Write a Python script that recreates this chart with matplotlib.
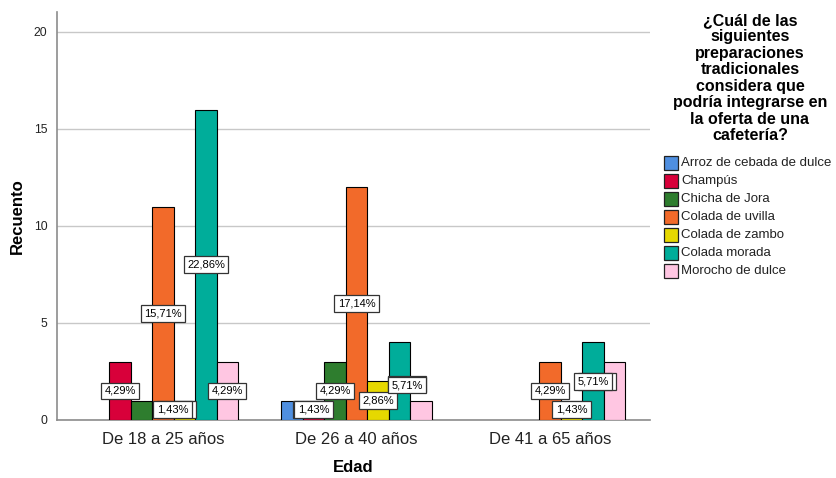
import matplotlib
matplotlib.use("Agg")
import matplotlib.pyplot as plt
from matplotlib.patches import Rectangle

plt.rcParams['font.family'] = ['Liberation Sans', 'DejaVu Sans']

# ---- data -------------------------------------------------------------
age_groups = ["De 18 a 25 años", "De 26 a 40 años", "De 41 a 65 años"]
preparations = ["Arroz de cebada de dulce", "Champús", "Chicha de Jora",
                "Colada de uvilla", "Colada de zambo", "Colada morada",
                "Morocho de dulce"]
arroz = [0, 1, 0]
champus = [3, 1, 0]
chicha = [1, 3, 0]
uvilla = [11, 12, 3]
zambo = [1, 2, 1]
morada = [16, 4, 4]
morocho = [3, 1, 3]
y_ticks = [0, 5, 10, 15, 20]

counts = [arroz, champus, chicha, uvilla, zambo, morada, morocho]
colors = ["#4f8fe0", "#d8003a", "#2e7d2e", "#f26a2a",
          "#e6d800", "#00ad9a", "#ffc6e2"]
total = sum(sum(c) for c in counts)

legend_title = ("¿Cuál de las\nsiguientes\npreparaciones\ntradicionales\n"
                "considera que\npodría integrarse en\nla oferta de una\ncafetería?")

# label placement tweaks (series, group): horizontal shift in bar widths
label_dx = {(2, 0): 1.63, (4, 0): -0.56, (0, 1): 0.95, (5, 1): 0.37,
            (6, 1): -0.65, (6, 2): -0.8}
label_y = {(2, 0): 0.53, (4, 0): 0.53, (4, 2): 0.53, (0, 1): 0.53,
           (1, 1): 0.53, (5, 1): 1.8, (6, 1): 1.85, (6, 2): 1.97}
behind = {(2, 0), (0, 1), (6, 1), (6, 2)}

# ---- figure -----------------------------------------------------------
W, H = 836, 478
fig = plt.figure(figsize=(W / 100, H / 100), dpi=100)
ax = fig.add_axes([57 / W, 58 / H, (650 - 57) / W, (420 - 12) / H])

bw = 0.111
n = len(counts)
for i, (vals, col) in enumerate(zip(counts, colors)):
    offs = (i - (n - 1) / 2) * bw
    for g, v in enumerate(vals):
        if v == 0:
            continue
        x = g + offs
        ax.bar(x, v, width=bw, color=col, edgecolor="black",
               linewidth=0.8, zorder=3)
        pct = f"{v / total * 100:.2f}%".replace(".", ",")
        lx = x + label_dx.get((i, g), 0) * bw
        ly = label_y.get((i, g), v / 2)
        ax.text(lx, ly, pct, ha="center", va="center", fontsize=8.0,
                zorder=4 if (i, g) in behind else 5,
                bbox=dict(boxstyle="square,pad=0.3", fc="white",
                          ec="#333333", lw=0.9))

ax.set_xlim(-0.548, 2.517)
ax.set_ylim(0, 21.03)
ax.set_xticks(range(len(age_groups)))
ax.set_xticklabels(age_groups, fontsize=12)
ax.set_yticks(y_ticks)
ax.set_yticklabels([str(t) for t in y_ticks], fontsize=8.8)
ax.tick_params(axis="both", length=0, colors="#222222")
ax.tick_params(axis="x", pad=9)
ax.tick_params(axis="y", pad=7)
ax.yaxis.grid(True, color="#c8c8c8", linewidth=1, zorder=0)
ax.set_axisbelow(True)
for s in ("top", "right"):
    ax.spines[s].set_visible(False)
for s in ("left", "bottom"):
    ax.spines[s].set_color("#8c8c8c")
    ax.spines[s].set_linewidth(1.2)

ax.set_ylabel("Recuento", fontsize=12, fontweight="bold", labelpad=6)
ax.set_xlabel("Edad", fontsize=12, fontweight="bold", labelpad=9)

# ---- legend -----------------------------------------------------------
fig.text(750 / W, 1 - 13 / H, legend_title, ha="center", va="top",
         multialignment="center", fontsize=11.5, fontweight="bold",
         linespacing=1.12)
ps = 14
for k, (name, col) in enumerate(zip(preparations, colors)):
    yc = 163 + k * 18
    fig.patches.append(Rectangle((664 / W, 1 - (yc + ps / 2) / H),
                                 ps / W, ps / H, transform=fig.transFigure,
                                 facecolor=col, edgecolor="#222222",
                                 linewidth=0.9))
    fig.text(681 / W, 1 - yc / H, name, ha="left", va="center",
             fontsize=9.5, color="#222222")

fig.savefig("out.png", dpi=100)
